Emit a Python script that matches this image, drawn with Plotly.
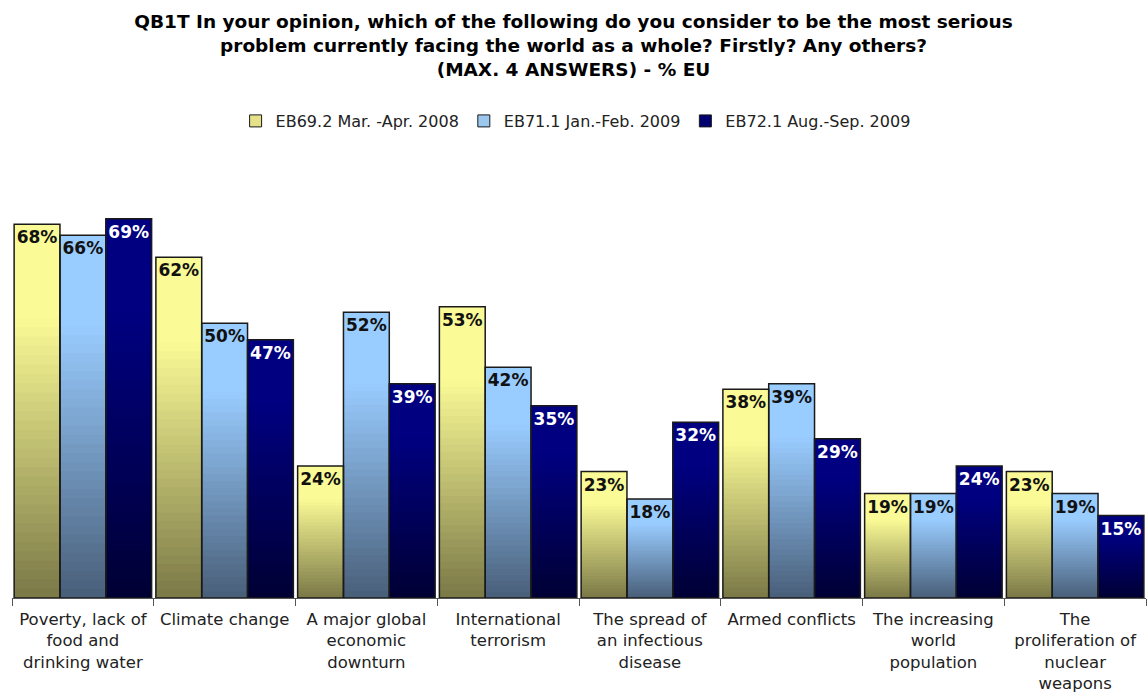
import plotly.graph_objects as go

categories = [
    "Poverty, lack of<br>food and<br>drinking water",
    "Climate change",
    "A major global<br>economic<br>downturn",
    "International<br>terrorism",
    "The spread of<br>an infectious<br>disease",
    "Armed conflicts",
    "The increasing<br>world<br>population",
    "The<br>proliferation of<br>nuclear<br>weapons",
]
series_names = ["EB69.2 Mar. -Apr. 2008", "EB71.1 Jan.-Feb. 2009", "EB72.1 Aug.-Sep. 2009"]
values_2008 = [68, 62, 24, 53, 23, 38, 19, 23]
values_2009a = [66, 50, 52, 42, 18, 39, 19, 19]
values_2009b = [69, 47, 39, 35, 32, 29, 24, 15]
series_values = [values_2008, values_2009a, values_2009b]

top_colors = [(250, 250, 150), (153, 204, 255), (0, 0, 128)]
bottom_colors = [(122, 120, 70), (72, 94, 120), (0, 0, 52)]
legend_colors = ["#E6E28A", "#9CC8F0", "#000070"]
text_colors = ["#111111", "#111111", "#FFFFFF"]

N = 40
fig = go.Figure()


def mix(c1, c2, f):
    return "rgb(%d,%d,%d)" % tuple(round(a + (b - a) * f) for a, b in zip(c1, c2))


for s, vals in enumerate(series_values):
    for k in range(N):
        t = (k + 0.5) / N
        f = min(1.0, t / 0.75)
        col = mix(bottom_colors[s], top_colors[s], f)
        frac = 1.0 / N if k == N - 1 else 1.6 / N
        fig.add_trace(go.Bar(
            x=categories,
            y=[v * frac for v in vals],
            base=[v * k / N for v in vals],
            offsetgroup=str(s),
            marker=dict(color=col, line=dict(width=0)),
            showlegend=False,
            hoverinfo="skip",
        ))

for s, vals in enumerate(series_values):
    fig.add_trace(go.Bar(
        x=categories,
        y=vals,
        offsetgroup=str(s),
        name=series_names[s],
        marker=dict(color="rgba(0,0,0,0)", line=dict(color="#1a1a1a", width=1.5)),
        text=[f"{v}%" for v in vals],
        textposition="inside",
        insidetextanchor="end",
        textangle=0,
        constraintext="none",
        insidetextfont=dict(family="DejaVu Sans", size=17, color=text_colors[s], weight="bold"),
        showlegend=False,
    ))

for s in range(3):
    fig.add_trace(go.Bar(
        x=[categories[0]],
        y=[None],
        offsetgroup=str(s),
        name=series_names[s],
        marker=dict(color=legend_colors[s], line=dict(color="#1a1a1a", width=1)),
        showlegend=True,
    ))

fig.update_layout(
    width=1147,
    height=692,
    barmode="group",
    bargap=0.03,
    bargroupgap=0,
    plot_bgcolor="white",
    paper_bgcolor="white",
    margin=dict(l=12, r=1, t=160, b=94, autoexpand=False),
    title=dict(
        text="QB1T In your opinion, which of the following do you consider to be the most serious<br>"
             "problem currently facing the world as a whole? Firstly? Any others?<br>"
             "(MAX. 4 ANSWERS) - % EU",
        x=0.5, xanchor="center",
        yref="container", y=1 - 28 / 692, yanchor="top",
        font=dict(family="DejaVu Sans", size=18.5, color="#000000", weight="bold"),
    ),
    legend=dict(
        orientation="h",
        x=0.497, xanchor="center",
        yref="container", y=1 - 121 / 692, yanchor="middle",
        font=dict(family="DejaVu Sans", size=16, color="#222222"),
        itemwidth=30,
        traceorder="normal",
    ),
    xaxis=dict(
        showline=True, linecolor="#555555", linewidth=1,
        ticks="outside", tickson="boundaries", ticklen=7, tickcolor="#555555",
        tickfont=dict(family="DejaVu Sans", size=16.5, color="#222222"),
        tickangle=0,
        automargin=False,
        ticklabelstandoff=6,
        showgrid=False,
    ),
    yaxis=dict(range=[0, 79.7], visible=False, showgrid=False, automargin=False),
)

fig.write_html("out.html")
